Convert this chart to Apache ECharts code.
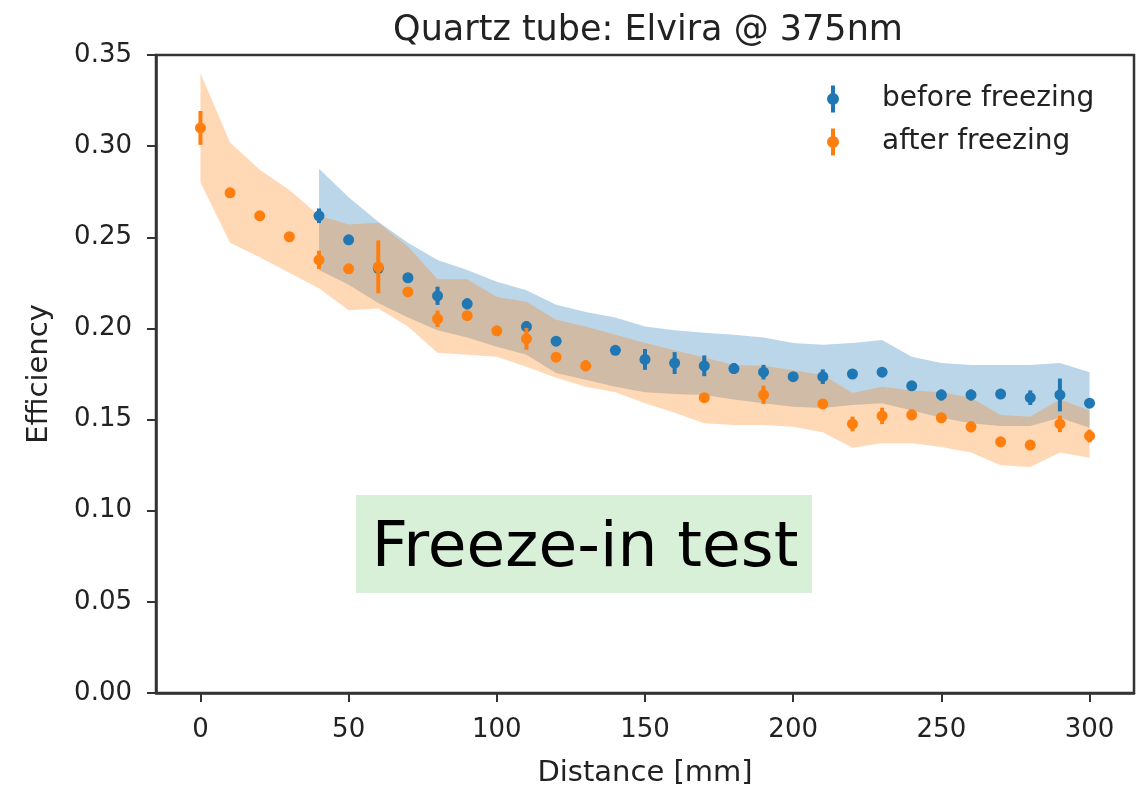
<!DOCTYPE html>
<html>
<head>
<meta charset="utf-8">
<script src="https://cdn.jsdelivr.net/npm/echarts@6/dist/echarts.min.js"></script>
<style>
html,body{margin:0;padding:0;background:#fff;}
#chart{width:1143px;height:789px;}
</style>
</head>
<body>
<div id="chart"></div>
<script>
// ---- data ----
const xTicks = [0, 50, 100, 150, 200, 250, 300];
const yTicks = [0, 0.05, 0.10, 0.15, 0.20, 0.25, 0.30, 0.35];

// before freezing (blue)
const beforeX   = [40, 50, 60, 70, 80, 90, 110, 120, 140, 150, 160, 170, 180, 190, 200, 210, 220, 230, 240, 250, 260, 270, 280, 290, 300];
const beforeY   = [0.2618, 0.2486, 0.2330, 0.2278, 0.2179, 0.2135, 0.2010, 0.1930, 0.1880, 0.1830, 0.1810, 0.1795, 0.1780, 0.1760, 0.1735, 0.1735, 0.1750, 0.1760, 0.1685, 0.1635, 0.1635, 0.1640, 0.1620, 0.1635, 0.1590];
const beforeErr = [0.004, 0.002, 0.002, 0.002, 0.005, 0.003, 0.003, 0.002, 0.002, 0.0057, 0.006, 0.0057, 0.003, 0.004, 0.002, 0.004, 0.002, 0.002, 0.002, 0.003, 0.003, 0.002, 0.004, 0.009, 0.002];

// after freezing (orange)
const afterX   = [0, 10, 20, 30, 40, 50, 60, 70, 80, 90, 100, 110, 120, 130, 170, 190, 210, 220, 230, 240, 250, 260, 270, 280, 290, 300];
const afterY   = [0.3100, 0.2744, 0.2618, 0.2503, 0.2376, 0.2327, 0.2338, 0.2200, 0.2053, 0.2070, 0.1987, 0.1943, 0.1842, 0.1795, 0.1620, 0.1636, 0.1586, 0.1476, 0.1520, 0.1526, 0.1510, 0.1460, 0.1378, 0.1360, 0.1476, 0.1410];
const afterErr = [0.0093, 0.002, 0.002, 0.002, 0.005, 0.002, 0.0145, 0.002, 0.0045, 0.002, 0.002, 0.006, 0.002, 0.003, 0.002, 0.005, 0.002, 0.004, 0.0045, 0.003, 0.002, 0.003, 0.002, 0.002, 0.0045, 0.0035];

// shaded bands
const beforeBandX    = [40, 50, 60, 70, 80, 90, 100, 110, 120, 130, 140, 150, 160, 170, 180, 190, 200, 210, 220, 230, 240, 250, 260, 270, 280, 290, 300];
const beforeBandHigh = [0.2876, 0.272, 0.2585, 0.247, 0.2376, 0.232, 0.2256, 0.221, 0.213, 0.209, 0.206, 0.201, 0.199, 0.1976, 0.1965, 0.195, 0.192, 0.191, 0.192, 0.1937, 0.1844, 0.181, 0.180, 0.180, 0.180, 0.181, 0.176];
const beforeBandLow  = [0.232, 0.224, 0.214, 0.206, 0.199, 0.195, 0.190, 0.1855, 0.1756, 0.1718, 0.168, 0.165, 0.164, 0.1635, 0.161, 0.159, 0.157, 0.1564, 0.158, 0.159, 0.155, 0.151, 0.148, 0.1465, 0.1465, 0.151, 0.1455];

const afterBandX    = [0, 10, 20, 30, 40, 50, 60, 70, 80, 90, 100, 110, 120, 130, 140, 150, 160, 170, 180, 190, 200, 210, 220, 230, 240, 250, 260, 270, 280, 290, 300];
const afterBandHigh = [0.340, 0.302, 0.287, 0.276, 0.262, 0.257, 0.258, 0.245, 0.227, 0.227, 0.2173, 0.2146, 0.2047, 0.201, 0.1965, 0.192, 0.188, 0.184, 0.180, 0.1795, 0.177, 0.1745, 0.1646, 0.168, 0.166, 0.165, 0.162, 0.1525, 0.1515, 0.161, 0.155];
const afterBandLow  = [0.280, 0.247, 0.239, 0.2305, 0.222, 0.210, 0.211, 0.201, 0.1866, 0.1855, 0.1844, 0.179, 0.173, 0.168, 0.165, 0.159, 0.1537, 0.148, 0.147, 0.147, 0.146, 0.143, 0.1345, 0.137, 0.137, 0.135, 0.132, 0.125, 0.124, 0.132, 0.129];

// ---- styling ----
const BLUE = '#1f77b4';
const ORANGE = '#ff7f0e';
const FONT = 'DejaVu Sans';
const TXT = '#222';

function bandSeries(name, xs, lo, hi, color, z) {
  return {
    type: 'custom',
    name: name + ' band',
    z: z,
    silent: true,
    data: [[xs[0], lo[0]]],
    renderItem: function (params, api) {
      const pts = [];
      for (let i = 0; i < xs.length; i++) pts.push(api.coord([xs[i], hi[i]]));
      for (let i = xs.length - 1; i >= 0; i--) pts.push(api.coord([xs[i], lo[i]]));
      return {
        type: 'polygon',
        shape: { points: pts },
        style: { fill: color, opacity: 0.3 }
      };
    }
  };
}

function errSeries(name, xs, ys, es, color, z) {
  return {
    type: 'custom',
    name: name,
    z: z,
    silent: true,
    data: xs.map((x, i) => [x, ys[i] - es[i], ys[i] + es[i]]),
    renderItem: function (params, api) {
      const p1 = api.coord([api.value(0), api.value(1)]);
      const p2 = api.coord([api.value(0), api.value(2)]);
      return {
        type: 'line',
        shape: { x1: p1[0], y1: p1[1], x2: p2[0], y2: p2[1] },
        style: { stroke: color, lineWidth: 4, lineCap: 'butt' }
      };
    }
  };
}

function ptSeries(name, xs, ys, color, z) {
  return {
    type: 'scatter',
    name: name,
    z: z,
    symbol: 'circle',
    symbolSize: 11,
    itemStyle: { color: color, opacity: 1 },
    data: xs.map((x, i) => [x, ys[i]])
  };
}

const legendIcon = 'path://M4,0 L8,0 L8,27 L4,27 Z M0,13.5 A6,6 0 1,1 12,13.5 A6,6 0 1,1 0,13.5 Z';

const chart = echarts.init(document.getElementById('chart'), null, { renderer: 'canvas' });
chart.setOption({
  animation: false,
  backgroundColor: '#fff',
  textStyle: { fontFamily: FONT },
  title: {
    text: 'Quartz tube: Elvira @ 375nm',
    left: 643,
    textAlign: 'center',
    top: 8,
    textStyle: { fontFamily: FONT, fontSize: 35, fontWeight: 'normal', color: TXT }
  },
  legend: {
    orient: 'vertical',
    left: 822,
    top: 80,
    itemWidth: 12,
    itemHeight: 27,
    itemGap: 15,
    selectedMode: false,
    textStyle: { fontFamily: FONT, fontSize: 28, color: TXT, padding: [0, 0, 0, 38] },
    data: [
      { name: 'before freezing', icon: legendIcon, itemStyle: { color: BLUE } },
      { name: 'after freezing', icon: legendIcon, itemStyle: { color: ORANGE } }
    ]
  },
  grid: {
    left: 156, right: 9, top: 55, bottom: 96,
    outerBoundsMode: 'none',
    containLabel: false,
    show: true, borderColor: '#333', borderWidth: 2.5, backgroundColor: 'transparent'
  },
  xAxis: {
    type: 'value',
    min: -15, max: 315,
    name: 'Distance [mm]',
    nameLocation: 'middle',
    nameGap: 66,
    nameTextStyle: { fontFamily: FONT, fontSize: 29, color: TXT },
    splitLine: { show: false },
    axisLine: { show: true, onZero: false, lineStyle: { color: '#333', width: 2.5 } },
    axisTick: { show: true, inside: false, customValues: xTicks, length: 9, lineStyle: { color: '#333', width: 2 } },
    axisLabel: { customValues: xTicks, fontFamily: FONT, fontSize: 26, color: TXT, margin: 24 }
  },
  yAxis: {
    type: 'value',
    min: 0, max: 0.35, interval: 0.05,
    name: 'Efficiency',
    nameLocation: 'middle',
    nameGap: 102,
    nameTextStyle: { fontFamily: FONT, fontSize: 29, color: TXT },
    splitLine: { show: false },
    axisLine: { show: true, onZero: false, lineStyle: { color: '#333', width: 2.5 } },
    axisTick: { show: true, inside: false, length: 9, lineStyle: { color: '#333', width: 2 } },
    axisLabel: {
      fontFamily: FONT, fontSize: 26, color: TXT, margin: 24,
      padding: [6, 0, 0, 0],
      formatter: v => v.toFixed(2)
    }
  },
  graphic: [
    {
      type: 'rect',
      shape: { x: 356, y: 495, width: 456, height: 98 },
      style: { fill: 'rgb(216,239,216)' },
      z: 100
    },
    {
      type: 'text',
      x: 585, y: 550,
      style: {
        text: 'Freeze-in test',
        font: '63px "DejaVu Sans"',
        fill: '#000',
        textAlign: 'center',
        textVerticalAlign: 'middle'
      },
      z: 101
    }
  ],
  series: [
    bandSeries('before freezing', beforeBandX, beforeBandLow, beforeBandHigh, BLUE, 1),
    bandSeries('after freezing', afterBandX, afterBandLow, afterBandHigh, ORANGE, 2),
    errSeries('before freezing', beforeX, beforeY, beforeErr, BLUE, 3),
    ptSeries('before freezing', beforeX, beforeY, BLUE, 4),
    errSeries('after freezing', afterX, afterY, afterErr, ORANGE, 5),
    ptSeries('after freezing', afterX, afterY, ORANGE, 6)
  ]
});
</script>
</body>
</html>
